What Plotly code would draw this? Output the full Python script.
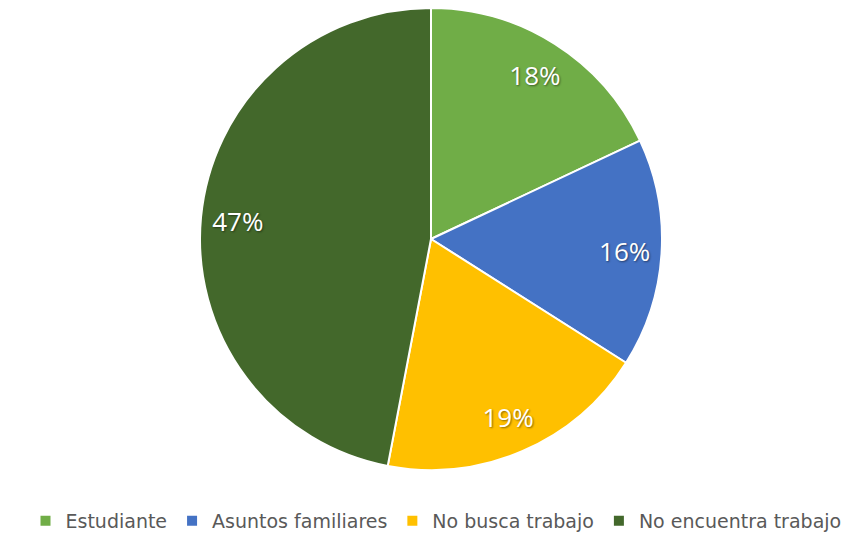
import plotly.graph_objects as go

categories = ["Estudiante", "Asuntos familiares", "No busca trabajo", "No encuentra trabajo"]
values = [18, 16, 19, 47]
colors = ["#70AD47", "#4472C4", "#FFC000", "#43682B"]

# the page body has an 8px margin, so the figure is drawn 8px in from the window edge
OFF = 8
W, H = 862 - OFF, 533 - OFF
cx, cy, r = 431 - OFF, 239 - OFF, 231
dom = dict(x=[max(0, (cx - r) / W), min(1, (cx + r) / W)],
           y=[max(0, (H - (cy + r)) / H), min(1, (H - (cy - r)) / H)])

fig = go.Figure()
# the filled pie
fig.add_trace(go.Pie(
    labels=categories,
    values=values,
    sort=False,
    direction="clockwise",
    rotation=0,
    marker=dict(colors=colors, line=dict(color="white", width=2)),
    textinfo="none",
    hoverinfo="label+percent",
    domain=dom,
))
# transparent ring carrying the labels, placed near the rim like the original
fig.add_trace(go.Pie(
    labels=categories,
    values=values,
    sort=False,
    direction="clockwise",
    rotation=0,
    hole=0.68,
    marker=dict(colors=["rgba(0,0,0,0)"] * len(values), line=dict(width=0)),
    texttemplate="%{value}%",
    textposition="inside",
    insidetextorientation="horizontal",
    textfont=dict(family="Open Sans, sans-serif", size=26, color="white",
                  shadow="1px 1px 2px rgba(0,0,0,0.45)"),
    hoverinfo="skip",
    showlegend=False,
    domain=dom,
))

fig.update_layout(
    width=W, height=H,
    margin=dict(l=0, r=0, t=0, b=0, autoexpand=False),
    paper_bgcolor="white",
    showlegend=True,
    legend=dict(orientation="h", x=(436 - OFF) / W, xanchor="center", y=(H - (521 - OFF)) / H, yanchor="middle",
                font=dict(family="DejaVu Sans, sans-serif", size=19, color="#595959"),
                itemwidth=30, traceorder="normal"),
)

fig.write_html("out.html")
